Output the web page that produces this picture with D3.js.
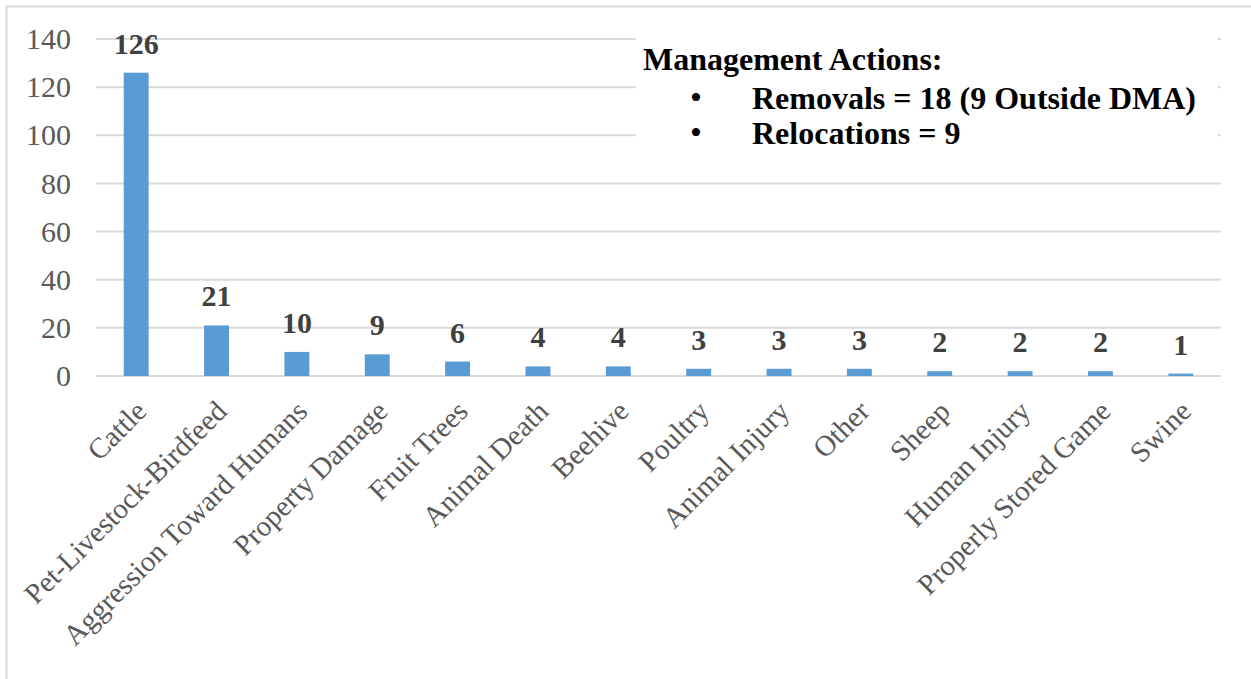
<!DOCTYPE html>
<html>
<head>
<meta charset="utf-8">
<script src="https://cdn.jsdelivr.net/npm/d3@7"></script>
<style>
  body { margin: 0; background: #fff; }
  text { font-family: "Liberation Serif", "Times New Roman", serif; }
</style>
</head>
<body>
<script>
// data
var categories = ["Cattle", "Pet-Livestock-Birdfeed", "Aggression Toward Humans", "Property Damage",
  "Fruit Trees", "Animal Death", "Beehive", "Poultry", "Animal Injury", "Other", "Sheep",
  "Human Injury", "Properly Stored Game", "Swine"];
var counts = [126, 21, 10, 9, 6, 4, 4, 3, 3, 3, 2, 2, 2, 1];
var yTicks = [0, 20, 40, 60, 80, 100, 120, 140];
var noteTitle = "Management Actions:";
var noteItems = ["Removals = 18 (9 Outside DMA)", "Relocations = 9"];

var width = 1251, height = 679;
var margin = {top: 39, right: 30, bottom: 303, left: 96};

var svg = d3.select("body").append("svg")
  .attr("width", width)
  .attr("height", height);

// chart frame (only top/left visible in the picture)
svg.append("rect")
  .attr("x", 6.5).attr("y", 6.5)
  .attr("width", width + 20).attr("height", height + 20)
  .attr("fill", "#fff")
  .attr("stroke", "#d9d9d9")
  .attr("stroke-width", 2);

var x = d3.scaleBand()
  .domain(categories)
  .range([margin.left, width - margin.right])
  .paddingInner(0.69)
  .paddingOuter(0.345);

var y = d3.scaleLinear()
  .domain([0, 140])
  .range([height - margin.bottom, margin.top]);

// gridlines
svg.append("g")
  .selectAll("line")
  .data(yTicks)
  .join("line")
  .attr("x1", margin.left)
  .attr("x2", width - margin.right)
  .attr("y1", function(d) { return y(d); })
  .attr("y2", function(d) { return y(d); })
  .attr("stroke", "#d9d9d9")
  .attr("stroke-width", 2);

// y axis labels
var yAxis = d3.axisLeft(y).tickValues(yTicks).tickSize(0).tickPadding(0);
var gy = svg.append("g")
  .attr("transform", "translate(71,0)")
  .call(yAxis);
gy.select(".domain").remove();
gy.selectAll("text")
  .attr("fill", "#595959")
  .style("font-size", "30px")
  .style("font-family", "Liberation Serif, serif");

// bars
svg.append("g")
  .selectAll("rect")
  .data(counts)
  .join("rect")
  .attr("x", function(d, i) { return x(categories[i]); })
  .attr("width", x.bandwidth())
  .attr("y", function(d) { return y(d); })
  .attr("height", function(d) { return y(0) - y(d); })
  .attr("fill", "#5b9bd5");

// value labels
svg.append("g")
  .selectAll("text")
  .data(counts)
  .join("text")
  .attr("x", function(d, i) { return x(categories[i]) + x.bandwidth() / 2; })
  .attr("y", function(d) { return y(d) - 19; })
  .attr("text-anchor", "middle")
  .attr("fill", "#404040")
  .style("font-size", "30px")
  .style("font-weight", "bold")
  .text(function(d) { return d; });

// category labels, rotated
svg.append("g")
  .selectAll("text")
  .data(categories)
  .join("text")
  .attr("transform", function(d) {
    var cx = x(d) + x.bandwidth() / 2 + 12;
    return "translate(" + cx + "," + (y(0) + 37) + ") rotate(-45)";
  })
  .attr("text-anchor", "end")
  .attr("fill", "#595959")
  .style("font-size", "29px")
  .text(function(d) { return d; });

// management actions note
var note = svg.append("g");
note.append("rect")
  .attr("x", 636).attr("y", 24)
  .attr("width", 582).attr("height", 136)
  .attr("fill", "#fff");
note.append("text")
  .attr("x", 643).attr("y", 70)
  .attr("fill", "#000")
  .style("font-size", "32px")
  .style("font-weight", "bold")
  .text(noteTitle);
note.selectAll("text.item")
  .data(noteItems)
  .join("text")
  .attr("class", "item")
  .attr("x", 752)
  .attr("y", function(d, i) { return 109 + i * 35; })
  .attr("fill", "#000")
  .style("font-size", "32px")
  .style("font-weight", "bold")
  .text(function(d) { return d; });
note.selectAll("text.bullet")
  .data(noteItems)
  .join("text")
  .attr("class", "bullet")
  .attr("x", 690)
  .attr("y", function(d, i) { return 109 + i * 35; })
  .attr("fill", "#000")
  .style("font-size", "34px")
  .text("\u2022");
</script>
</body>
</html>
